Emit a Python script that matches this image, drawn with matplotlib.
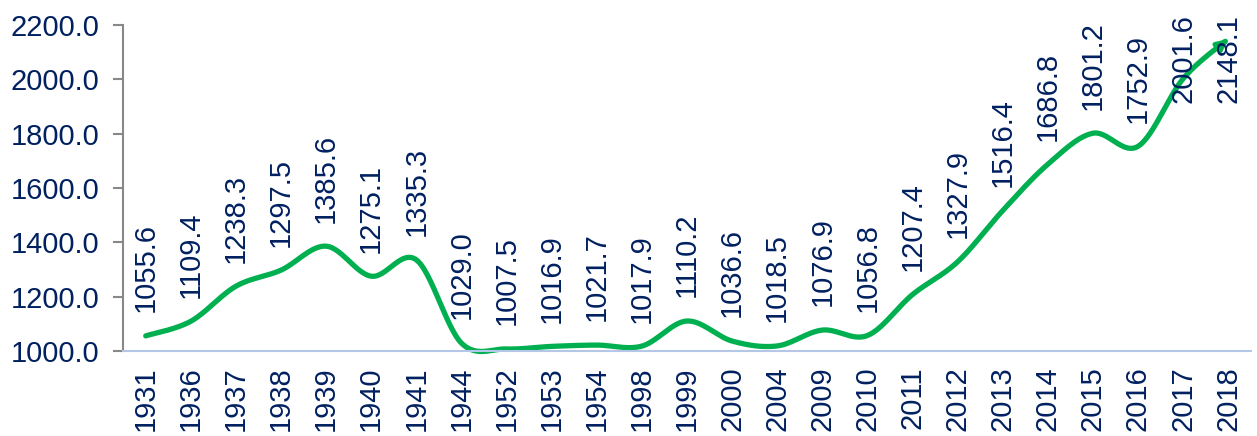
import numpy as np
import matplotlib
matplotlib.use("Agg")
import matplotlib.pyplot as plt
from matplotlib.ticker import MultipleLocator, FormatStrFormatter

years = ['1931', '1936', '1937', '1938', '1939', '1940', '1941', '1944', '1952',
         '1953', '1954', '1998', '1999', '2000', '2004', '2009', '2010', '2011',
         '2012', '2013', '2014', '2015', '2016', '2017', '2018']
values = [1055.6, 1109.4, 1238.3, 1297.5, 1385.6, 1275.1, 1335.3, 1029.0, 1007.5,
          1016.9, 1021.7, 1017.9, 1110.2, 1036.6, 1018.5, 1076.9, 1056.8, 1207.4,
          1327.9, 1516.4, 1686.8, 1801.2, 1752.9, 2001.6, 2148.1]

navy = '#002060'
green = '#00B050'

plt.rcParams['font.family'] = ['Liberation Sans', 'DejaVu Sans']

fig = plt.figure(figsize=(12.57, 4.36), dpi=100)
ax = fig.add_axes([0.098, 0.195, 0.897, 0.748])

# smoothed line like Excel's (Catmull-Rom through the points)
x = np.arange(len(values), dtype=float)
y = np.array(values)
px = np.concatenate([[x[0]], x, [x[-1]]])
py = np.concatenate([[y[0]], y, [y[-1]]])
sx, sy = [], []
t = np.linspace(0, 1, 30)
for i in range(1, len(px) - 2):
    p0, p1, p2, p3 = [np.array([px[j], py[j]]) for j in (i - 1, i, i + 1, i + 2)]
    c1 = p1 + (p2 - p0) / 6
    c2 = p2 - (p3 - p1) / 6
    pts = ((1 - t)[:, None] ** 3 * p1 + 3 * ((1 - t) ** 2 * t)[:, None] * c1
           + 3 * ((1 - t) * t ** 2)[:, None] * c2 + (t ** 3)[:, None] * p2)
    sx.extend(pts[:, 0])
    sy.extend(pts[:, 1])
sx = np.array(sx)
sy = np.array(sy)

ax.plot(sx[:-3], sy[:-3], color=green, lw=3.8, solid_capstyle='round', clip_on=False)
ax.annotate('', xy=(sx[-1], sy[-1]), xytext=(sx[-6], sy[-6]),
            arrowprops=dict(arrowstyle='-|>', color=green, lw=3.5,
                            mutation_scale=15, shrinkA=0, shrinkB=0),
            annotation_clip=False)

ax.set_xlim(-0.5, len(values) - 0.5)
ax.set_ylim(1000, 2200)
ax.yaxis.set_major_locator(MultipleLocator(200))
ax.yaxis.set_major_formatter(FormatStrFormatter('%.1f'))
ax.set_xticks(x)
ax.set_xticklabels(years, rotation=90)
ax.tick_params(axis='x', length=0, pad=11, labelsize=21, labelcolor=navy)
ax.tick_params(axis='y', length=7, width=1.5, color='#888888', pad=10,
               labelsize=21, labelcolor=navy)

for s in ['top', 'right']:
    ax.spines[s].set_visible(False)
ax.spines['left'].set_color('#888888')
ax.spines['left'].set_linewidth(1.5)
ax.spines['bottom'].set_color('#B4C7E7')
ax.spines['bottom'].set_linewidth(1.5)

for i, v in enumerate(values):
    if v > 1850:
        ax.annotate(f'{v:.1f}', xy=(i, 1), xycoords=('data', 'axes fraction'),
                    xytext=(0, 8), textcoords='offset points',
                    rotation=90, ha='center', va='top', color=navy, fontsize=21,
                    annotation_clip=False)
    else:
        ax.annotate(f'{v:.1f}', xy=(i, v), xytext=(0, 17), textcoords='offset points',
                    rotation=90, ha='center', va='bottom', color=navy, fontsize=21)

fig.savefig('out.png', dpi=100)
